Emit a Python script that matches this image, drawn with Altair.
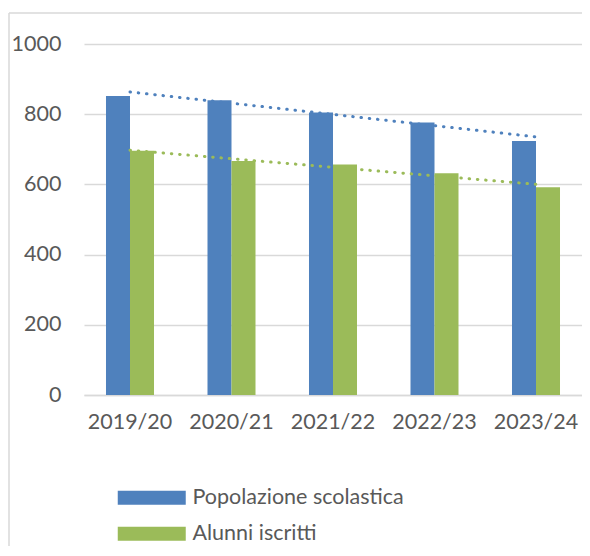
import altair as alt
import pandas as pd

years = ["2019/20", "2020/21", "2021/22", "2022/23", "2023/24"]
series_names = ["Popolazione scolastica", "Alunni iscritti"]
popolazione = [852, 840, 805, 776, 724]
alunni = [696, 667, 657, 632, 592]
colors = ["#4F81BD", "#9BBB59"]
y_ticks = [0, 200, 400, 600, 800, 1000]

rows = []
for i, yr in enumerate(years):
    rows.append({"year": yr, "idx": i + 1, "series": series_names[0], "value": popolazione[i]})
    rows.append({"year": yr, "idx": i + 1, "series": series_names[1], "value": alunni[i]})
df = pd.DataFrame(rows)

FONT = "Lato"
TXT = "#595959"
GRID = "#d9d9d9"
FS = 21.5

color_scale = alt.Scale(domain=series_names, range=colors)

x_enc = alt.X(
    "year:N",
    sort=years,
    scale=alt.Scale(domain=years, paddingInner=0.527, paddingOuter=0.2167),
    axis=alt.Axis(
        title=None, labelAngle=0, ticks=False, grid=False,
        domainColor=GRID, domainWidth=1.5,
        labelPadding=16, labelFontSize=FS, labelFont=FONT, labelColor=TXT,
    ),
)
y_enc = alt.Y(
    "value:Q",
    scale=alt.Scale(domain=[0, 1000]),
    axis=alt.Axis(
        title=None, values=y_ticks, format="d", domain=False, ticks=False,
        gridColor=GRID, gridWidth=1.5,
        labelPadding=23, labelFontSize=FS, labelFont=FONT, labelColor=TXT,
    ),
)

frame_src = pd.DataFrame({"a": [0]})
frame_left = alt.Chart(frame_src).mark_rule(stroke=GRID, strokeWidth=1.5).encode(
    x=alt.value(-75), y=alt.value(-31), y2=alt.value(502)
)
frame_top = alt.Chart(frame_src).mark_rule(stroke=GRID, strokeWidth=1.5).encode(
    x=alt.value(-75), x2=alt.value(498), y=alt.value(-31)
)

bars = alt.Chart(df).mark_bar().encode(
    x=x_enc,
    xOffset=alt.XOffset(
        "series:N", sort=series_names,
        scale=alt.Scale(domain=series_names, paddingInner=0, paddingOuter=0),
    ),
    y=y_enc,
    color=alt.Color(
        "series:N",
        scale=color_scale,
        legend=alt.Legend(
            title=None, orient="none", legendX=30, legendY=443,
            direction="vertical",
            symbolType="M-1,-1L8.714,-1L8.714,1L-1,1Z",
            symbolSize=196, symbolStrokeWidth=0, symbolOpacity=1,
            labelOffset=57, labelFontSize=FS, labelFont=FONT, labelColor=TXT,
            labelLimit=0, rowPadding=13, padding=0,
        ),
    ),
)

label_expr = "[" + ",".join("'" + y + "'" for y in years) + "][datum.idx - 1]"

trend = alt.Chart(df).transform_regression(
    "idx", "value", groupby=["series"]
).transform_calculate(
    year=label_expr
).mark_line(
    strokeDash=[0.5, 7.8], strokeCap="round", strokeWidth=3
).encode(
    x=alt.X("year:N", sort=years),
    y=alt.Y("value:Q"),
    color=alt.Color("series:N", scale=color_scale, legend=None),
)

chart = alt.layer(frame_left, frame_top, bars, trend).properties(
    width=498,
    height=351,
    autosize=alt.AutoSizeParams(type="none"),
    padding={"left": 76, "top": 36, "right": 0, "bottom": 151},
).configure_view(stroke=None)

chart.save("out.html", embed_options={"renderer": "svg", "actions": False})
